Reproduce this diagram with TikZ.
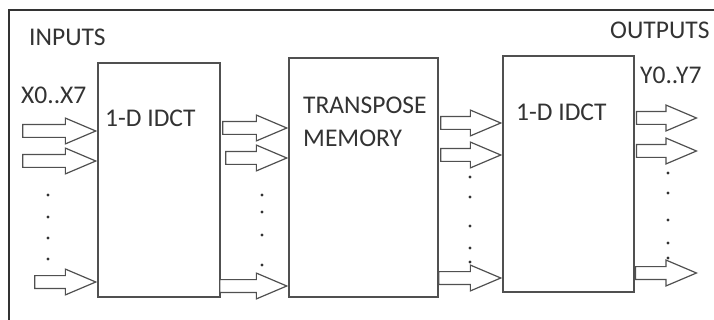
\documentclass[tikz,border=0pt]{standalone}
\usepackage{fontspec}
\setmainfont{Carlito}
\usetikzlibrary{shapes.arrows, positioning}
\definecolor{mLine}{HTML}{505050}
\definecolor{mText}{HTML}{333333}

\begin{document}
\begin{tikzpicture}[x=1pt, y=-1pt,
    blk/.style={draw=mLine, line width=1.4pt, fill=white, inner sep=0pt},
    bus/.style={single arrow, draw=mLine, line width=1.2pt, fill=white, inner xsep=0pt, inner ysep=5.8pt,
      text height=0pt, text depth=0pt, single arrow head extend=6.5pt, single arrow tip angle=46, anchor=tip},
    lbl/.style={text=mText, font=\fontsize{25.5}{33}\selectfont, inner sep=0pt, anchor=west}]
    \useasboundingbox (0,0) rectangle (714,320);
    \clip (0,0) rectangle (714,320);
    \draw[line width=1.4pt, black!80] (9,10) rectangle (740,340);

    % blocks
    \node[blk, minimum width=122pt, minimum height=234pt] (b1) at (159,180) {};
    \node[blk, minimum width=149pt, minimum height=239pt] (b2) at (363.5,177.5) {};
    \node[blk, minimum width=131pt, minimum height=236pt] (b3) at (568.5,174) {};

    \node[lbl] (t1) at (105,118) {1-D IDCT};
    \node[lbl, align=left, anchor=north west] (t2) at (303,97) {TRANSPOSE\\MEMORY};
    \node[lbl] (t3) at (516,112) {1-D IDCT};

    \node[lbl] (in) at (29,37) {INPUTS};
    \node[lbl] (x) at (21,95) {X0..X7};
    \node[lbl] (out) at (610,30) {OUTPUTS};
    \node[lbl] (y) at (640,75) {Y0..Y7};

    % buses
    \node[bus, minimum height=73pt] (i1) at (b1.west |- 0,131) {};
    \node[bus, minimum height=73pt] (i2) at (b1.west |- 0,161) {};
    \node[bus, minimum height=61pt] (i3) at (b1.west |- 0,282) {};
    \node[bus, minimum height=64pt] (m1) at (b2.west |- 0,128) {};
    \node[bus, minimum height=61pt] (m2) at (b2.west |- 0,158) {};
    \node[bus, minimum height=67pt] (m3) at (b2.west |- 0,286) {};
    \node[bus, minimum height=60pt] (r1) at (b3.west |- 0,123) {};
    \node[bus, minimum height=60pt] (r2) at (b3.west |- 0,155) {};
    \node[bus, minimum height=62pt] (r3) at (b3.west |- 0,278) {};
    \coordinate (o1tip) at (698,118);
    \coordinate (o2tip) at (698,151);
    \coordinate (o3tip) at (698,273);
    \node[bus, minimum height=60pt] (o1) at (o1tip) {};
    \node[bus, minimum height=60pt] (o2) at (o2tip) {};
    \node[bus, minimum height=61pt] (o3) at (o3tip) {};

    % dots
    \foreach \yy in {195,217,238,259} \fill[mText] (48,\yy) circle (1.6);
    \foreach \yy in {195,212,235,265} \fill[mText] (262,\yy) circle (1.6);
    \foreach \yy in {177,197,226,248,262} \fill[mText] (470,\yy) circle (1.6);
    \foreach \yy in {173,193,220,243,258} \fill[mText] (668,\yy) circle (1.6);
\end{tikzpicture}
\end{document}
